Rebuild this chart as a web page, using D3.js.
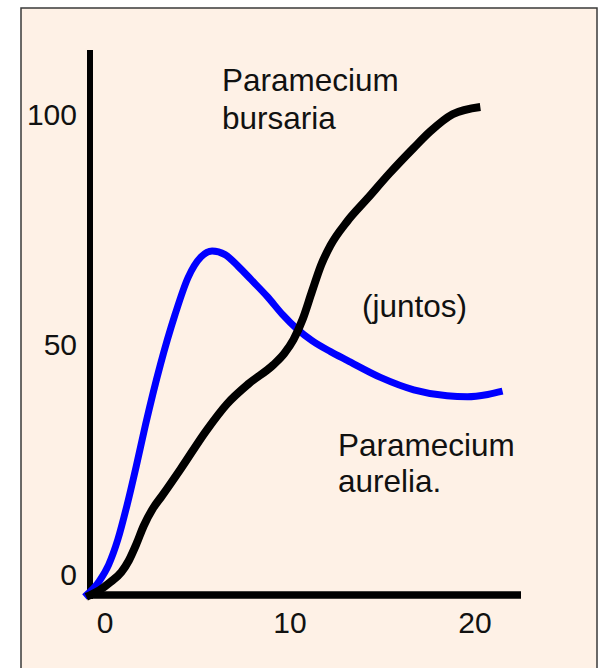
<!DOCTYPE html>
<html>
<head>
<meta charset="utf-8">
<script src="https://cdn.jsdelivr.net/npm/d3@7"></script>
<style>
  html, body { margin: 0; padding: 0; background: #ffffff; }
  svg { display: block; }
  text { font-family: "Liberation Sans", Arial, sans-serif; fill: #111; }
</style>
</head>
<body>
<svg id="chart" width="600" height="668"></svg>
<script>
// Population growth of two Paramecium species grown together
const xTicks = [0, 10, 20];
const yTicks = [0, 50, 100];

// Paramecium aurelia (blue)
const aureliaDays   = [-0.3, 0.5, 1.0, 1.5, 2.0, 2.5, 3.0, 3.8, 4.6, 5.3, 6.0, 6.6, 7.3, 8.0, 8.7, 9.6, 10.4, 11.2, 12.0, 13.0, 13.9, 15.7, 17.5, 19.3, 20.4, 21.5, 22.3];
const aureliaCounts = [-0.4, 3.0, 6.5, 12.0, 19.5, 28.0, 37.0, 50.0, 61.0, 69.0, 73.5, 74.8, 74.0, 71.5, 68.6, 64.8, 61.0, 57.8, 55.3, 52.9, 51.0, 47.3, 44.6, 43.3, 43.1, 43.6, 44.3];

// Paramecium bursaria (black)
const bursariaDays   = [-0.2, 0.5, 1.1, 1.7, 2.1, 2.5, 2.9, 3.4, 3.9, 4.9, 6.3, 7.4, 8.6, 9.9, 10.5, 11.0, 11.5, 12.0, 12.5, 13.0, 13.9, 15.0, 16.2, 17.5, 18.4, 19.6, 21.1];
const bursariaCounts = [-0.4, 1.0, 2.8, 5.0, 7.5, 11.0, 15.0, 18.8, 21.6, 27.4, 35.8, 41.5, 46.0, 50.0, 52.5, 55.5, 60.0, 66.0, 71.8, 76.0, 81.2, 86.2, 91.7, 97.2, 100.8, 104.5, 106.1];

const svg = d3.select("#chart");

const x = d3.scaleLinear().domain([0, 20]).range([90, 460]);
const y = d3.scaleLinear().domain([0, 100]).range([595, 135]);

// panel
svg.append("rect")
  .attr("x", 21).attr("y", 8)
  .attr("width", 576).attr("height", 690)
  .attr("fill", "#fef1e6")
  .attr("stroke", "#3a3a3a")
  .attr("stroke-width", 1.5);

// axes
svg.append("line")
  .attr("x1", x(0)).attr("x2", x(0))
  .attr("y1", 50).attr("y2", 599)
  .attr("stroke", "#000").attr("stroke-width", 6);
svg.append("line")
  .attr("x1", 87).attr("x2", 521)
  .attr("y1", y(0)).attr("y2", y(0))
  .attr("stroke", "#000").attr("stroke-width", 7.5);

// tick labels
svg.selectAll("text.xt").data(xTicks).enter().append("text")
  .attr("class", "xt")
  .attr("x", d => x(d) + 15)
  .attr("y", 633)
  .attr("text-anchor", "middle")
  .attr("font-size", 30)
  .text(d => d);

svg.selectAll("text.yt").data(yTicks).enter().append("text")
  .attr("class", "yt")
  .attr("x", 77)
  .attr("y", d => y(d) - 10)
  .attr("text-anchor", "end")
  .attr("font-size", 30)
  .text(d => d);

// curves
const line = d3.line()
  .x(d => x(d[0]))
  .y(d => y(d[1]))
  .curve(d3.curveMonotoneX);

svg.append("path")
  .datum(d3.zip(aureliaDays, aureliaCounts))
  .attr("d", line)
  .attr("fill", "none")
  .attr("stroke", "#0000ff")
  .attr("stroke-width", 7);

svg.append("path")
  .datum(d3.zip(bursariaDays, bursariaCounts))
  .attr("d", line)
  .attr("fill", "none")
  .attr("stroke", "#000")
  .attr("stroke-width", 8);

// annotations
const notes = [
  { text: "Paramecium", x: 222, y: 91 },
  { text: "bursaria",   x: 222, y: 129 },
  { text: "(juntos)",   x: 362, y: 317 },
  { text: "Paramecium", x: 338, y: 456 },
  { text: "aurelia.",   x: 338, y: 492 }
];
svg.selectAll("text.note").data(notes).enter().append("text")
  .attr("class", "note")
  .attr("x", d => d.x)
  .attr("y", d => d.y)
  .attr("font-size", 31.5)
  .text(d => d.text);
</script>
</body>
</html>
